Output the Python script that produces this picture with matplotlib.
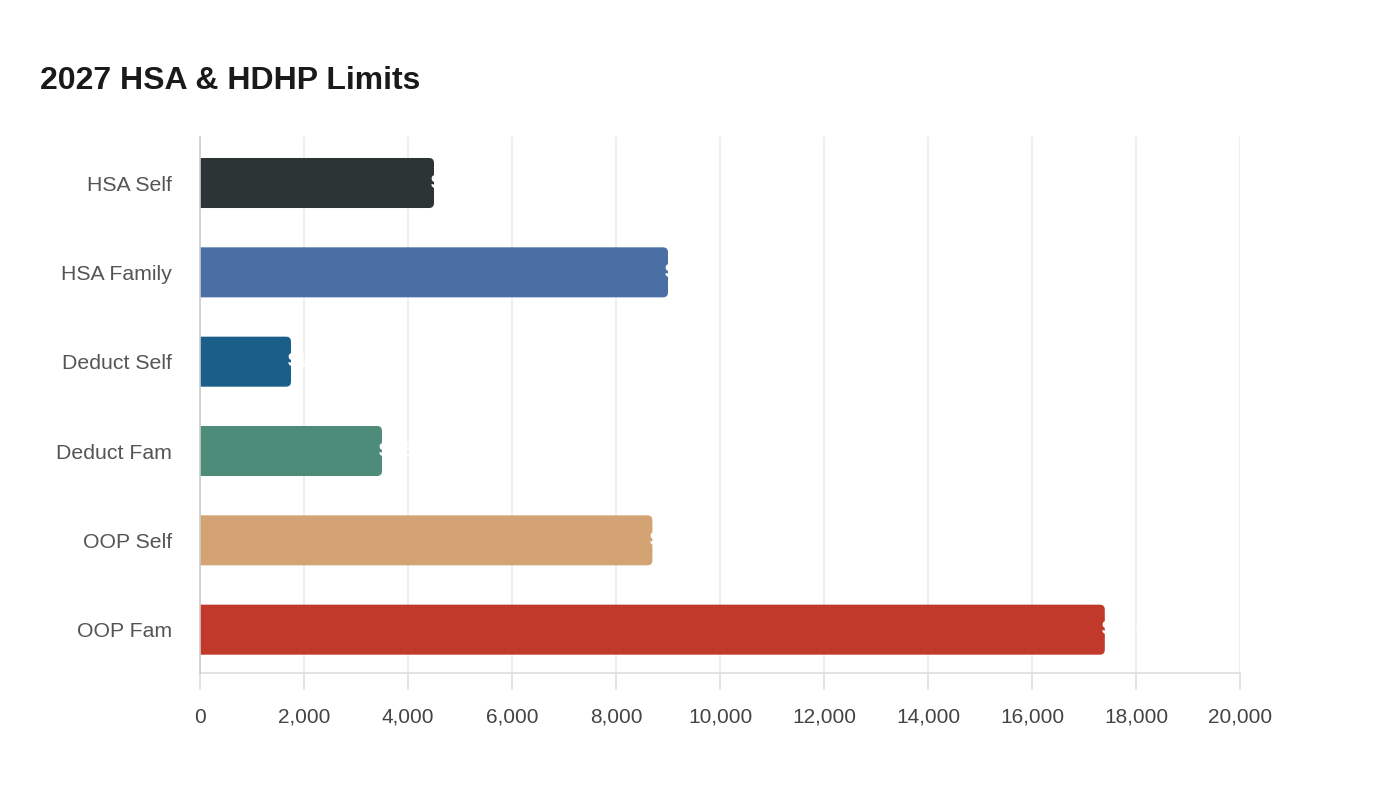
import matplotlib
matplotlib.use("Agg")
import matplotlib.pyplot as plt
from matplotlib.patches import FancyBboxPatch
from matplotlib.ticker import FuncFormatter, MultipleLocator

plt.rcParams['font.family'] = ['Liberation Sans', 'DejaVu Sans']

categories = ["HSA Self", "HSA Family", "Deduct Self", "Deduct Fam", "OOP Self", "OOP Fam"]
values = [4500, 9000, 1750, 3500, 8700, 17400]
colors = ["#2d3436", "#4a6fa5", "#1a5f8a", "#4e8c7a", "#d4a373", "#c0392b"]
labels = ["$4,500", "$9,000", "$1,750", "$3,500", "$8,700", "$17,400"]
title = "2027 HSA & HDHP Limits"

fig = plt.figure(figsize=(14, 8), dpi=100)
ax = fig.add_axes([200/1400, 1 - 673/800, 1040/1400, (673-137)/800])

bar_h = 0.56
ypos = list(range(len(categories)))
bars = ax.barh(ypos, values, height=bar_h, color=colors, zorder=3)

ax.set_xlim(0, 20000)
ax.set_ylim(len(categories) - 0.5 - 0.015, -0.5 - 0.015)

# replace rectangles with rounded ones; left corners hidden outside the axes (clipped)
xpp = 20000 / 1040
ypp = (len(categories)) / (673 - 137)
for b, c in zip(bars, colors):
    x0, y0 = b.get_x(), b.get_y()
    w, h = b.get_width(), b.get_height()
    b.set_visible(False)
    r = 5 * xpp
    ext = 20 * xpp
    p = FancyBboxPatch((x0 - ext, y0), w + ext, h,
                       boxstyle=f"round,pad=0,rounding_size={r}",
                       mutation_aspect=ypp / xpp,
                       facecolor=c, edgecolor="none", zorder=3, snap=False)
    ax.add_patch(p)

for y, v, lab in zip(ypos, values, labels):
    ax.text(v - 3 * xpp, y, lab, color="white", fontsize=13, fontweight="bold",
            va="center", ha="left", zorder=4)

ax.set_yticks(ypos)
ax.set_yticklabels(categories)
ax.xaxis.set_major_locator(MultipleLocator(2000))
ax.xaxis.set_major_formatter(FuncFormatter(lambda v, p: f"{int(v):,}"))

ax.grid(axis="x", color="#ebebeb", linewidth=1.2, zorder=0)
ax.grid(axis="y", visible=False)
for s in ["top", "right"]:
    ax.spines[s].set_visible(False)
ax.spines["left"].set_color("#cccccc")
ax.spines["bottom"].set_color("#dddddd")
ax.spines["left"].set_linewidth(1.2)
ax.spines["bottom"].set_linewidth(1.2)
ax.spines["left"].set_zorder(5)

ax.tick_params(axis="x", colors="#dddddd", length=12, width=1.2, labelcolor="#444444",
               labelsize=15, pad=13)
ax.tick_params(axis="y", length=0, labelcolor="#555555", labelsize=15.3, pad=20)

fig.text(40/1400, 1 - 81/800, title, fontsize=23, fontweight="bold", color="#1a1a1a",
         ha="left", va="center")

fig.savefig("out.png", dpi=100, facecolor="white")
